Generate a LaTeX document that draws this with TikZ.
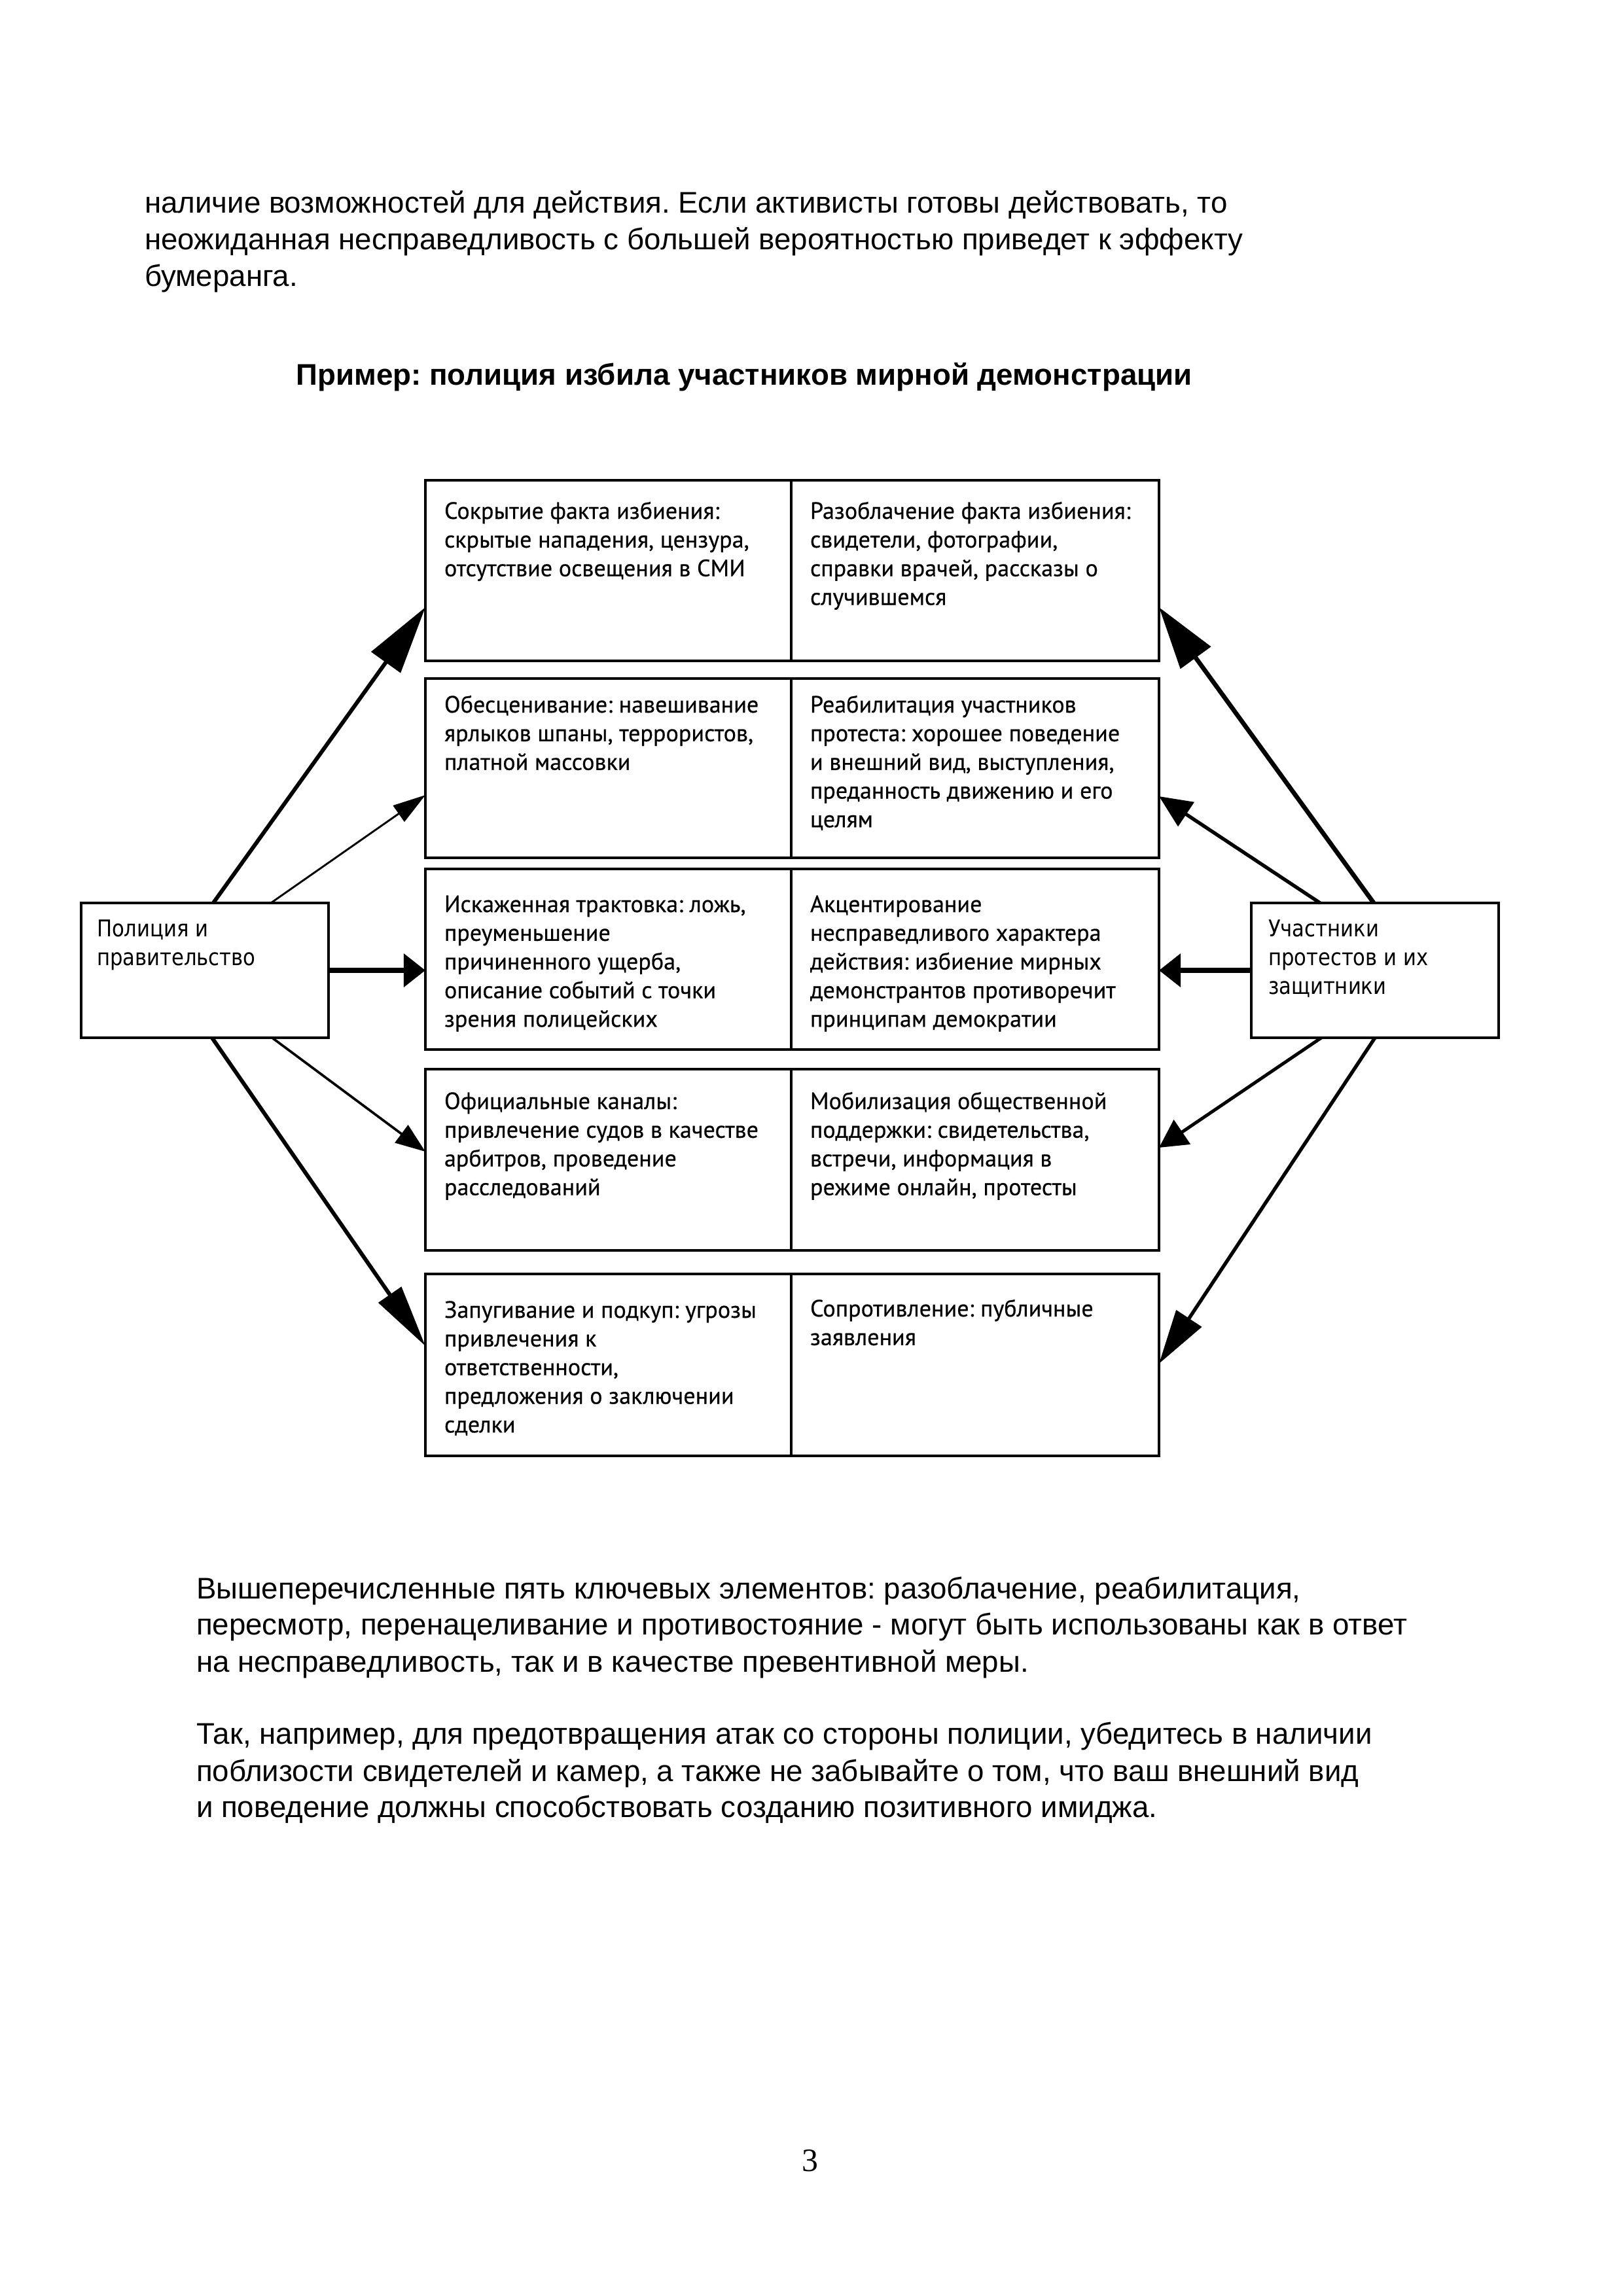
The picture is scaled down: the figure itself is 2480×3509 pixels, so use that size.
\documentclass[tikz,border=0pt]{standalone}
\usepackage{fontspec}
\setmainfont{Liberation Sans}
\newfontfamily\cellfont[FakeBold=0.5]{PT Sans}
\newfontfamily\sidefont[FakeStretch=0.87]{DejaVu Sans}
\newfontfamily\numfont{Liberation Serif}
\usetikzlibrary{arrows.meta,calc,fit}
\newcommand\lines[1]{\begin{tabular}[t]{@{}l@{}}#1\end{tabular}}
\frenchspacing
\begin{document}
\frenchspacing
\begin{tikzpicture}[x=0.0846774mm,y=-0.0846774mm,
  every node/.style={inner sep=0pt,outer sep=0pt},
  body/.style={anchor=base west,font=\fontsize{11}{13.4}\selectfont},
  cellbox/.style={draw,line width=0.8pt,inner sep=0pt},
  celltext/.style={anchor=base west,font=\cellfont\fontsize{8.7}{10.56}\selectfont},
  sidebox/.style={draw,line width=0.8pt,inner sep=0pt},
  sidetext/.style={anchor=base west,font=\sidefont\fontsize{8.5}{10.7}\selectfont},
  arr/.style n args={3}{line width=#1,-{Triangle[length=#2,width=#3]}}]
\fill[white] (0,0) rectangle (2480,3509);
\useasboundingbox (0,0) rectangle (2480,3509);

% top paragraph
\node[body] (p1) at (221,325) {наличие возможностей для действия. Если активисты готовы действовать, то};
\node[body] (p2) at (221,381) {неожиданная несправедливость с большей вероятностью приведет к эффекту};
\node[body] (p3) at (221,437) {бумеранга.};
% title
\node[anchor=base,font=\bfseries\fontsize{11}{13.4}\selectfont] (title) at (1137,588) {Пример: полиция избила участников мирной демонстрации};

% grid cells
\node[cellbox,fit={(650,734) (1209,1010)}] (c1L) {};
\node[cellbox,fit={(1209,734) (1771,1010)}] (c1R) {};
\node[cellbox,fit={(650,1037) (1209,1311)}] (c2L) {};
\node[cellbox,fit={(1209,1037) (1771,1311)}] (c2R) {};
\node[cellbox,fit={(650,1328) (1209,1604)}] (c3L) {};
\node[cellbox,fit={(1209,1328) (1771,1604)}] (c3R) {};
\node[cellbox,fit={(650,1634) (1209,1911)}] (c4L) {};
\node[cellbox,fit={(1209,1634) (1771,1911)}] (c4R) {};
\node[cellbox,fit={(650,1947) (1209,2225)}] (c5L) {};
\node[cellbox,fit={(1209,1947) (1771,2225)}] (c5R) {};

% cell texts
\node[celltext] (t1L) at (679,793) {\lines{Сокрытие факта избиения:\\скрытые нападения, цензура,\\отсутствие освещения в СМИ}};
\node[celltext] (t1R) at (1238,793) {\lines{Разоблачение факта избиения:\\свидетели, фотографии,\\справки врачей, рассказы о\\случившемся}};
\node[celltext] (t2L) at (679,1089) {\lines{Обесценивание: навешивание\\ярлыков шпаны, террористов,\\платной массовки}};
\node[celltext] (t2R) at (1238,1089) {\lines{Реабилитация участников\\протеста: хорошее поведение\\и внешний вид, выступления,\\преданность движению и его\\целям}};
\node[celltext] (t3L) at (679,1394) {\lines{Искаженная трактовка: ложь,\\преуменьшение\\причиненного ущерба,\\описание событий с точки\\зрения полицейских}};
\node[celltext] (t3R) at (1238,1394) {\lines{Акцентирование\\несправедливого характера\\действия: избиение мирных\\демонстрантов противоречит\\принципам демократии}};
\node[celltext] (t4L) at (679,1695) {\lines{Официальные каналы:\\привлечение судов в качестве\\арбитров, проведение\\расследований}};
\node[celltext] (t4R) at (1238,1695) {\lines{Мобилизация общественной\\поддержки: свидетельства,\\встречи, информация в\\режиме онлайн, протесты}};
\node[celltext] (t5L) at (679,2014) {\lines{Запугивание и подкуп: угрозы\\привлечения к\\ответственности,\\предложения о заключении\\сделки}};
\node[celltext] (t5R) at (1238,2012) {\lines{Сопротивление: публичные\\заявления}};

% side boxes
\node[sidebox,fit={(124,1380) (502,1586)}] (pol) {};
\node[sidetext] (polt) at (148,1431) {\lines{Полиция и\\правительство}};
\node[sidebox,fit={(1912,1380) (2290,1586)}] (prot) {};
\node[sidetext] (prott) at (1938,1431) {\lines{Участники\\протестов и их\\защитники}};

% arrows from police
\draw[arr={1.45pt}{25pt}{13pt}] ($(pol.north west)!0.534!(pol.north east)$) -- ($(c1L.north west)!0.703!(c1L.south west)$);
\draw[arr={0.7pt}{12pt}{7.2pt}] ($(pol.north west)!0.767!(pol.north east)$) -- ($(c2L.north west)!0.65!(c2L.south west)$);
\draw[arr={2pt}{8pt}{12pt}] (pol.east) -- (pol.east -| c3L.west);
\draw[arr={0.9pt}{11pt}{8pt}] ($(pol.south west)!0.772!(pol.south east)$) -- ($(c4L.north west)!0.455!(c4L.south west)$);
\draw[arr={1.45pt}{23pt}{10pt}] ($(pol.south west)!0.529!(pol.south east)$) -- ($(c5L.north west)!0.396!(c5L.south west)$);

% arrows from protesters
\draw[arr={1.65pt}{23pt}{13.5pt}] ($(prot.north west)!0.495!(prot.north east)$) -- ($(c1R.north east)!0.703!(c1R.south east)$);
\draw[arr={1.3pt}{12pt}{10.5pt}] ($(prot.north west)!0.278!(prot.north east)$) -- ($(c2R.north east)!0.657!(c2R.south east)$);
\draw[arr={2pt}{8pt}{12pt}] (prot.west) -- (prot.west -| c3R.east);
\draw[arr={1.2pt}{10.3pt}{10.7pt}] ($(prot.south west)!0.283!(prot.south east)$) -- ($(c4R.north east)!0.433!(c4R.south east)$);
\draw[arr={1.3pt}{20pt}{11pt}] ($(prot.south west)!0.5!(prot.south east)$) -- ($(c5R.north east)!0.493!(c5R.south east)$);

% bottom paragraphs
\node[body] (q1) at (300,2443) {Вышеперечисленные пять ключевых элементов: разоблачение, реабилитация,};
\node[body] (q2) at (300,2498) {пересмотр, перенацеливание и противостояние - могут быть использованы как в ответ};
\node[body] (q3) at (300,2555) {на несправедливость, так и в качестве превентивной меры.};
\node[body] (q4) at (300,2665) {Так, например, для предотвращения атак со стороны полиции, убедитесь в наличии};
\node[body] (q5) at (300,2722) {поблизости свидетелей и камер, а также не забывайте о том, что ваш внешний вид};
\node[body] (q6) at (300,2777) {и поведение должны способствовать созданию позитивного имиджа.};

% page number
\node[anchor=base,font=\numfont\fontsize{12}{14}\selectfont] (pnum) at (1238,3318) {3};
\end{tikzpicture}
\end{document}
